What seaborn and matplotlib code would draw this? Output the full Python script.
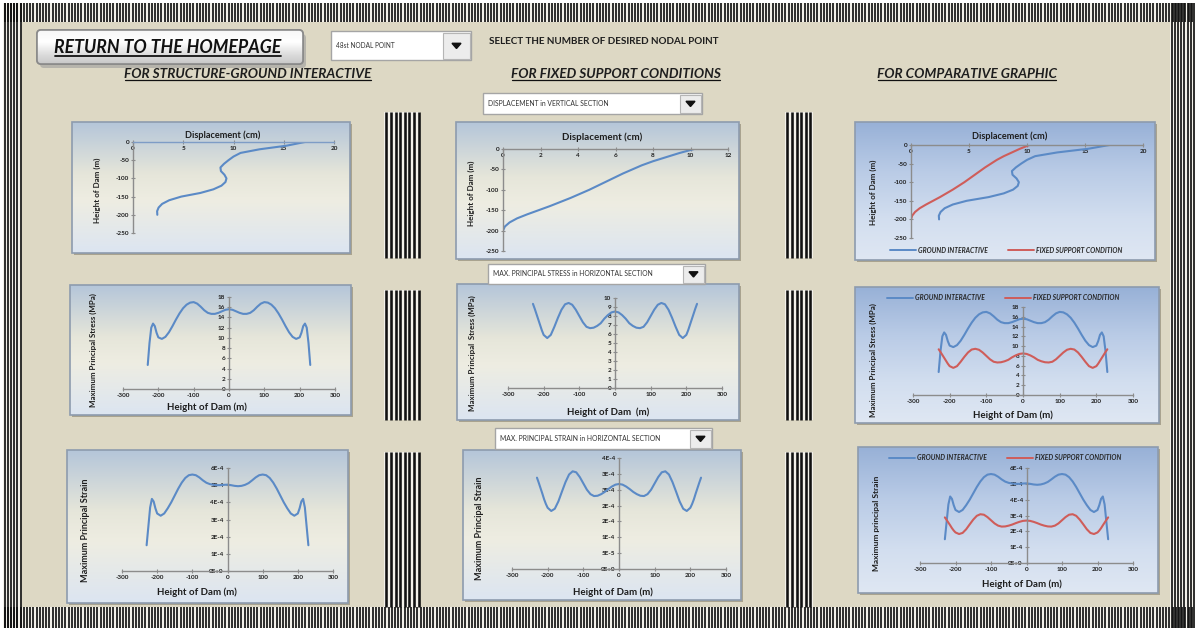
import numpy as np
import pandas as pd
import matplotlib
matplotlib.use("Agg")
import matplotlib.pyplot as plt
import seaborn as sns
from matplotlib.patches import Rectangle, FancyBboxPatch, Polygon

sns.set_theme(style="white")
plt.rcParams["font.family"] = ["Lato", "DejaVu Sans"]

height_v = [0, -10, -20, -30, -40, -50, -60, -70, -80, -90, -100,
            -110, -120, -130, -140, -150, -160, -170, -180, -190, -200]
disp_ground = [17.1, 15.3, 12.6, 10.7, 10.0, 9.5, 9.05, 8.7, 8.75, 9.1, 9.3,
               9.2, 8.8, 8.0, 6.7, 4.8, 3.6, 2.9, 2.55, 2.4, 2.42]
disp_fixed = [10.2, 9.4, 8.7, 8.0, 7.4, 6.9, 6.4, 5.95, 5.5, 5.05, 4.6,
              4.1, 3.6, 3.05, 2.5, 1.9, 1.3, 0.75, 0.35, 0.1, 0.0]

x_h = [-230, -225, -220, -215, -210, -205, -200,
       -190, -180, -170, -160, -150, -140, -130, -120, -110, -100,
       -90, -80, -70, -60, -50, -40, -30, -20, -10, 0,
       10, 20, 30, 40, 50, 60, 70, 80, 90, 100,
       110, 120, 130, 140, 150, 160, 170, 180, 190,
       200, 205, 210, 215, 220, 225, 230]
stress_ground = [4.7, 9.0, 12.0, 12.8, 12.3, 11.0, 10.1,
                 9.8, 10.2, 11.1, 12.3, 13.6, 14.8, 15.8, 16.5, 16.9, 17.0,
                 16.7, 16.1, 15.4, 14.9, 14.7, 14.7, 14.9, 15.2, 15.5, 15.6,
                 15.5, 15.2, 14.9, 14.7, 14.7, 14.9, 15.4, 16.1, 16.7, 17.0,
                 16.9, 16.5, 15.8, 14.8, 13.6, 12.3, 11.1, 10.2, 9.8,
                 10.1, 11.0, 12.3, 12.8, 12.0, 9.0, 4.7]
stress_fixed = [9.35, 8.8, 8.2, 7.6, 7.0, 6.4, 5.9,
                5.55, 5.9, 6.8, 7.8, 8.7, 9.3, 9.45, 9.25, 8.7, 8.0,
                7.3, 6.8, 6.65, 6.7, 6.9, 7.2, 7.7, 8.1, 8.4, 8.5,
                8.4, 8.1, 7.7, 7.2, 6.9, 6.7, 6.65, 6.8, 7.3, 8.0,
                8.7, 9.25, 9.45, 9.3, 8.7, 7.8, 6.8, 5.9, 5.55,
                5.9, 6.4, 7.0, 7.6, 8.2, 8.8, 9.35]
# deformacoes em unidades de 1E-4
strain_ground_e4 = [1.5, 2.6, 3.7, 4.2, 4.05, 3.65, 3.35,
                    3.22, 3.35, 3.65, 4.0, 4.4, 4.8, 5.15, 5.42, 5.58, 5.62,
                    5.58, 5.45, 5.28, 5.14, 5.06, 5.02, 5.0, 5.0, 5.02, 5.03,
                    5.0, 4.96, 4.94, 4.96, 5.02, 5.12, 5.28, 5.45, 5.58, 5.62,
                    5.58, 5.42, 5.15, 4.8, 4.4, 4.0, 3.65, 3.35, 3.22,
                    3.35, 3.65, 4.05, 4.2, 3.7, 2.6, 1.5]
strain_fixed_e4 = [2.88, 2.72, 2.55, 2.38, 2.2, 2.05, 1.93,
                   1.83, 1.9, 2.13, 2.44, 2.74, 2.98, 3.08, 3.05, 2.9, 2.7,
                   2.5, 2.36, 2.3, 2.31, 2.36, 2.43, 2.52, 2.6, 2.66, 2.68,
                   2.66, 2.6, 2.52, 2.43, 2.36, 2.31, 2.3, 2.36, 2.5, 2.7,
                   2.9, 3.05, 3.08, 2.98, 2.74, 2.44, 2.13, 1.9, 1.83,
                   1.93, 2.05, 2.2, 2.38, 2.55, 2.72, 2.88]

cases = ["GROUND INTERACTIVE", "FIXED SUPPORT CONDITION"]

W, H = 1198, 631
BEIGE = "#DDD8C4"
BLUE = "#5B8AC6"
RED = "#CF5D5A"
AXIS = "#8C8C8C"
TXT = "#1E1E1E"

fig = plt.figure(figsize=(W / 100, H / 100), dpi=100)
fig.patch.set_facecolor("white")
bg = fig.add_axes([0, 0, 1, 1], zorder=0)
bg.axis("off")

# fundo e molduras listradas
bg.add_patch(Rectangle((3, 3), W - 6, H - 6, color=BEIGE, lw=0))


def stripes(x0, x1, y0, y1, period=3.2, lw_px=1.7):
    bg.add_patch(Rectangle((x0, y0), x1 - x0, y1 - y0, color="#F3F1EA", lw=0, zorder=1))
    xs = np.arange(x0 + period / 2, x1, period)
    bg.vlines(xs, y0, y1, color="#111111", lw=lw_px * 0.72, zorder=2)


stripes(3, W - 3, 3, 22)
stripes(3, W - 3, 607, 628)
stripes(3, 22, 3, 628)
stripes(1170, W - 3, 3, 628)
for (y0, y1) in [(112, 258), (290, 420), (452, 607)]:
    stripes(384, 420, y0, y1, period=4.6, lw_px=2.6)
    stripes(785, 813, y0, y1, period=4.6, lw_px=2.6)


def gradient(colors, stops, n=80):
    rgb = np.array([matplotlib.colors.to_rgb(c) for c in colors])
    t = np.linspace(0, 1, n)
    g = np.stack([np.interp(t, stops, rgb[:, k]) for k in range(3)], axis=1)
    return g[:, None, :]


STD = (["#B5C6D9", "#E6E6DA", "#EEEDE2", "#DCE5F1"], [0, 0.4, 0.6, 1])
CMP = (["#98B1D7", "#B9CBE6", "#D2DEEF", "#DFE7F3"], [0, 0.35, 0.7, 1])


def panel(rect, style):
    l, t, r, b = rect
    bg.imshow(gradient(*style), extent=(l, r, b, t), aspect="auto",
              interpolation="bilinear", zorder=3)
    bg.add_patch(Rectangle((l + 2, t + 2), r - l, b - t, color="#A9A38F", lw=0, zorder=2.5))
    bg.add_patch(Rectangle((l, t), r - l, b - t, fill=False, ec="#8D9BAE", lw=1.2, zorder=4))


panels = {
    1: (72, 122, 350, 253), 2: (456, 122, 739, 259), 3: (855, 122, 1155, 260),
    4: (70, 285, 351, 415), 5: (457, 284, 739, 420), 6: (855, 287, 1159, 423),
    7: (67, 450, 348, 603), 8: (463, 450, 741, 600), 9: (858, 447, 1158, 593),
}
for k, rect in panels.items():
    panel(rect, CMP if k in (3, 6, 9) else STD)


def dropdown(l, t, r, b, text, aw=22, fs=4.9):
    bg.add_patch(Rectangle((l, t), r - l, b - t, fc="white", ec="#A5A5A5", lw=1, zorder=5))
    bg.add_patch(Rectangle((r - aw, t + 1.5), aw - 1.5, b - t - 3, fc="#ECECEC", ec="#B5B5B5", lw=0.8, zorder=6))
    cx, cy = r - aw / 2 - 0.5, (t + b) / 2
    bg.add_patch(Polygon([[cx - 4.5, cy - 2.2], [cx + 4.5, cy - 2.2], [cx, cy + 3]], closed=True,
                         color="#111111", zorder=7))
    bg.text(l + 5, cy, text, fontsize=fs, va="center", ha="left", color="#333333", zorder=7)


dropdown(331, 31, 471, 60, "48st NODAL POINT", aw=28, fs=4.7)
dropdown(483, 93, 702, 114, "DISPLACEMENT in VERTICAL SECTION")
dropdown(488, 264, 705, 284, "MAX. PRINCIPAL STRESS in HORIZONTAL SECTION")
dropdown(495, 428, 712, 449, "MAX. PRINCIPAL STRAIN in HORIZONTAL SECTION")

bg.text(489, 42, "SELECT THE NUMBER OF DESIRED NODAL POINT", fontsize=7.1, fontweight="bold",
        va="center", ha="left", color=TXT, zorder=7)

# botao de retorno
bg.add_patch(FancyBboxPatch((40, 34), 266, 34, boxstyle="round,pad=0,rounding_size=4",
                            fc="#9C9C9C", ec="none", alpha=0.6, zorder=4))
btn = FancyBboxPatch((37, 30), 266, 34, boxstyle="round,pad=0,rounding_size=4",
                     fc="#E6E6E6", ec="#8A8A8A", lw=1.2, zorder=5)
bg.add_patch(btn)
im = bg.imshow(gradient(["#F7F7F7", "#FFFFFF", "#DADADA", "#C8C8C8"], [0, 0.35, 0.75, 1]),
               extent=(37, 303, 64, 30), aspect="auto", interpolation="bilinear", zorder=5.5)
im.set_clip_path(btn)
bg.add_patch(FancyBboxPatch((37, 30), 266, 34, boxstyle="round,pad=0,rounding_size=4",
                            fc="none", ec="#8A8A8A", lw=1.2, zorder=6))

under = []
under.append(bg.text(168, 53, "RETURN TO THE HOMEPAGE", fontsize=12.8, fontweight="bold",
                     fontstyle="italic", ha="center", va="baseline", color="#111111", zorder=7))
for cx, s in [(248, "FOR STRUCTURE-GROUND INTERACTIVE"), (616, "FOR FIXED SUPPORT CONDITIONS"),
              (967, "FOR COMPARATIVE GRAPHIC")]:
    under.append(bg.text(cx, 77.5, s, fontsize=9.8, fontweight="bold", fontstyle="italic",
                         ha="center", va="baseline", color=TXT, zorder=7))

bg.set_xlim(0, W)
bg.set_ylim(H, 0)


# ---- graficos ----
def make_ax(rect):
    l, t, r, b = rect
    ax = fig.add_axes([l / W, 1 - b / H, (r - l) / W, (b - t) / H], zorder=3)
    ax.set_facecolor("none")
    ax.grid(False)
    ax.spines["top"].set_visible(False)
    ax.spines["right"].set_visible(False)
    for s in ("left", "bottom"):
        ax.spines[s].set_color(AXIS)
        ax.spines[s].set_linewidth(1.0)
    ax.tick_params(direction="inout", length=3, width=0.8, color=AXIS, pad=1.2,
                   labelcolor=TXT, left=True, bottom=True)
    return ax


def set_ticks(ax, xt, yt, xl=None, yl=None, fs=4.6):
    ax.set_xticks(xt, labels=xl if xl is not None else [str(v) for v in xt],
                  fontsize=fs, fontweight="bold")
    ax.set_yticks(yt, labels=yl if yl is not None else [str(v) for v in yt],
                  fontsize=fs, fontweight="bold")
    ax.set_xlabel("")
    ax.set_ylabel("")


def put(ax, rect, px, py, s, fs, rot=0, **kw):
    l, t, r, b = rect
    ax.text((px - l) / (r - l), (b - py) / (b - t), s, transform=ax.transAxes, ha="center",
            va="center", rotation=rot, fontsize=fs, fontweight="bold", color=TXT,
            clip_on=False, **kw)


def excel_sci(v):
    if v == 0:
        return "0E+0"
    e = int(np.floor(np.log10(v) + 1e-9))
    m = int(np.floor(v / 10 ** e + 0.5 + 1e-9))
    if m == 10:
        m, e = 1, e + 1
    return f"{m}E{e:+d}"


def legend(ax, cx, cy):
    h, lab = ax.get_legend_handles_labels()
    for hh in h:
        hh.set_linewidth(1.4)
    ax.legend(h, lab, loc="center", bbox_to_anchor=(cx / W, 1 - cy / H),
              bbox_transform=fig.transFigure, ncol=2, frameon=False, handlelength=3.8,
              columnspacing=3.0, handletextpad=0.3,
              prop={"size": 4.9, "weight": "bold", "style": "italic"})


disp_df = pd.DataFrame({
    "disp": disp_ground + disp_fixed,
    "height": height_v * 2,
    "case": [cases[0]] * len(height_v) + [cases[1]] * len(height_v),
})
horiz_df = pd.DataFrame({
    "x": x_h * 2,
    "stress": stress_ground + stress_fixed,
    "strain": list(np.array(strain_ground_e4 + strain_fixed_e4) * 1e-4),
    "case": [cases[0]] * len(x_h) + [cases[1]] * len(x_h),
})
pal = {cases[0]: BLUE, cases[1]: RED}
ht = list(range(-250, 1, 50))

# 1: deslocamento, interacao solo-estrutura
rect = (133, 142, 334, 233)
ax = make_ax(rect)
sns.lineplot(data=disp_df[disp_df.case == cases[0]], x="disp", y="height", sort=False,
             estimator=None, color=BLUE, lw=1.5, ax=ax)
ax.set_xlim(0, 20); ax.set_ylim(-250, 0)
ax.spines["bottom"].set_position(("data", 0))
ax.spines["bottom"].set_color("#7E9CC6")
set_ticks(ax, [0, 5, 10, 15, 20], ht)
put(ax, rect, 223, 135, "Displacement (cm)", 6.6)
put(ax, rect, 97, 190, "Height of Dam (m)", 5.8, rot=90)

# 2: deslocamento, apoio fixo
rect = (503, 149, 728, 251)
ax = make_ax(rect)
sns.lineplot(data=disp_df[disp_df.case == cases[1]], x="disp", y="height", sort=False,
             estimator=None, color=BLUE, lw=1.5, ax=ax)
ax.set_xlim(0, 12); ax.set_ylim(-250, 0)
ax.spines["bottom"].set_position(("data", 0))
set_ticks(ax, [0, 2, 4, 6, 8, 10, 12], ht)
put(ax, rect, 602, 137, "Displacement (cm)", 7.0)
put(ax, rect, 471, 193, "Height of Dam (m)", 5.8, rot=90)

# 3: deslocamento, comparativo
rect = (911, 145, 1143, 238)
ax = make_ax(rect)
sns.lineplot(data=disp_df, x="disp", y="height", hue="case", palette=pal, sort=False,
             estimator=None, lw=1.5, ax=ax)
ax.set_xlim(0, 20); ax.set_ylim(-250, 0)
ax.spines["bottom"].set_position(("data", 0))
set_ticks(ax, [0, 5, 10, 15, 20], ht)
legend(ax, 1006, 250)
put(ax, rect, 1010, 136, "Displacement (cm)", 6.6)
put(ax, rect, 873, 192, "Height of Dam (m)", 5.8, rot=90)

xt = [-300, -200, -100, 0, 100, 200, 300]

# 4: tensao, interacao
rect = (123, 297, 335, 389)
ax = make_ax(rect)
sns.lineplot(data=horiz_df[horiz_df.case == cases[0]], x="x", y="stress", color=BLUE, lw=1.5, ax=ax)
ax.set_xlim(-300, 300); ax.set_ylim(0, 18)
ax.spines["left"].set_position(("data", 0))
set_ticks(ax, xt, list(range(0, 19, 2)))
put(ax, rect, 207, 407, "Height of Dam (m)", 7.0)
put(ax, rect, 93, 350, "Maximum Principal Stress (MPa)", 5.7, rot=90)

# 5: tensao, apoio fixo
rect = (508, 298, 722, 388)
ax = make_ax(rect)
sns.lineplot(data=horiz_df[horiz_df.case == cases[1]], x="x", y="stress", color=BLUE, lw=1.5, ax=ax)
ax.set_xlim(-300, 300); ax.set_ylim(0, 10)
ax.spines["left"].set_position(("data", 0))
set_ticks(ax, xt, list(range(0, 11)))
put(ax, rect, 608, 412, "Height of Dam  (m)", 7.0)
put(ax, rect, 472, 353, "Maximum Principal  Stress (MPa)", 5.7, rot=90)

# 6: tensao, comparativo
rect = (913, 307, 1133, 395)
ax = make_ax(rect)
sns.lineplot(data=horiz_df, x="x", y="stress", hue="case", palette=pal, lw=1.5, ax=ax)
ax.set_xlim(-300, 300); ax.set_ylim(0, 18)
ax.spines["left"].set_position(("data", 0))
set_ticks(ax, xt, list(range(0, 19, 2)))
legend(ax, 1003, 298)
put(ax, rect, 1013, 415, "Height of Dam (m)", 7.0)
put(ax, rect, 873, 360, "Maximum Principal Stress (MPa)", 5.7, rot=90)

# 7: deformacao, interacao
rect = (122, 468, 333, 571)
ax = make_ax(rect)
sns.lineplot(data=horiz_df[horiz_df.case == cases[0]], x="x", y="strain", color=BLUE, lw=1.5, ax=ax)
ax.set_xlim(-300, 300); ax.set_ylim(0, 6e-4)
ax.spines["left"].set_position(("data", 0))
yt = [i * 1e-4 for i in range(7)]
set_ticks(ax, xt, yt, yl=[excel_sci(v) for v in yt])
put(ax, rect, 197, 592, "Height of Dam (m)", 7.0)
put(ax, rect, 85, 530, "Maximum Principal Strain", 6.5, rot=90)

# 8: deformacao, apoio fixo
rect = (512, 458, 726, 569)
ax = make_ax(rect)
sns.lineplot(data=horiz_df[horiz_df.case == cases[1]], x="x", y="strain", color=BLUE, lw=1.5, ax=ax)
ax.set_xlim(-300, 300); ax.set_ylim(0, 3.5e-4)
ax.spines["left"].set_position(("data", 0))
yt8 = [i * 5e-5 for i in range(8)]
set_ticks(ax, xt, yt8, yl=[excel_sci(v) for v in yt8])
put(ax, rect, 613, 592, "Height of Dam (m)", 7.0)
put(ax, rect, 479, 528, "Maximum Principal Strain", 6.5, rot=90)

# 9: deformacao, comparativo
rect = (920, 468, 1133, 563)
ax = make_ax(rect)
sns.lineplot(data=horiz_df, x="x", y="strain", hue="case", palette=pal, lw=1.5, ax=ax)
ax.set_xlim(-300, 300); ax.set_ylim(0, 6e-4)
ax.spines["left"].set_position(("data", 0))
set_ticks(ax, xt, yt, yl=[excel_sci(v) for v in yt])
legend(ax, 1005, 458)
put(ax, rect, 1022, 584, "Height of Dam (m)", 7.0)
put(ax, rect, 877, 523, "Maximum principal Strain", 6.0, rot=90)

# sublinhado dos titulos
fig.canvas.draw()
rend = fig.canvas.get_renderer()
for t in under:
    bb = t.get_window_extent(rend)
    x, y = t.get_position()
    lw = 1.3 if t.get_fontsize() > 11 else 0.9
    bg.plot([bb.x0 + 1, bb.x1 - 1], [y + 2.5, y + 2.5], color="#111111", lw=lw, zorder=7)
bg.set_xlim(0, W)
bg.set_ylim(H, 0)

fig.savefig("out.png", dpi=100)
